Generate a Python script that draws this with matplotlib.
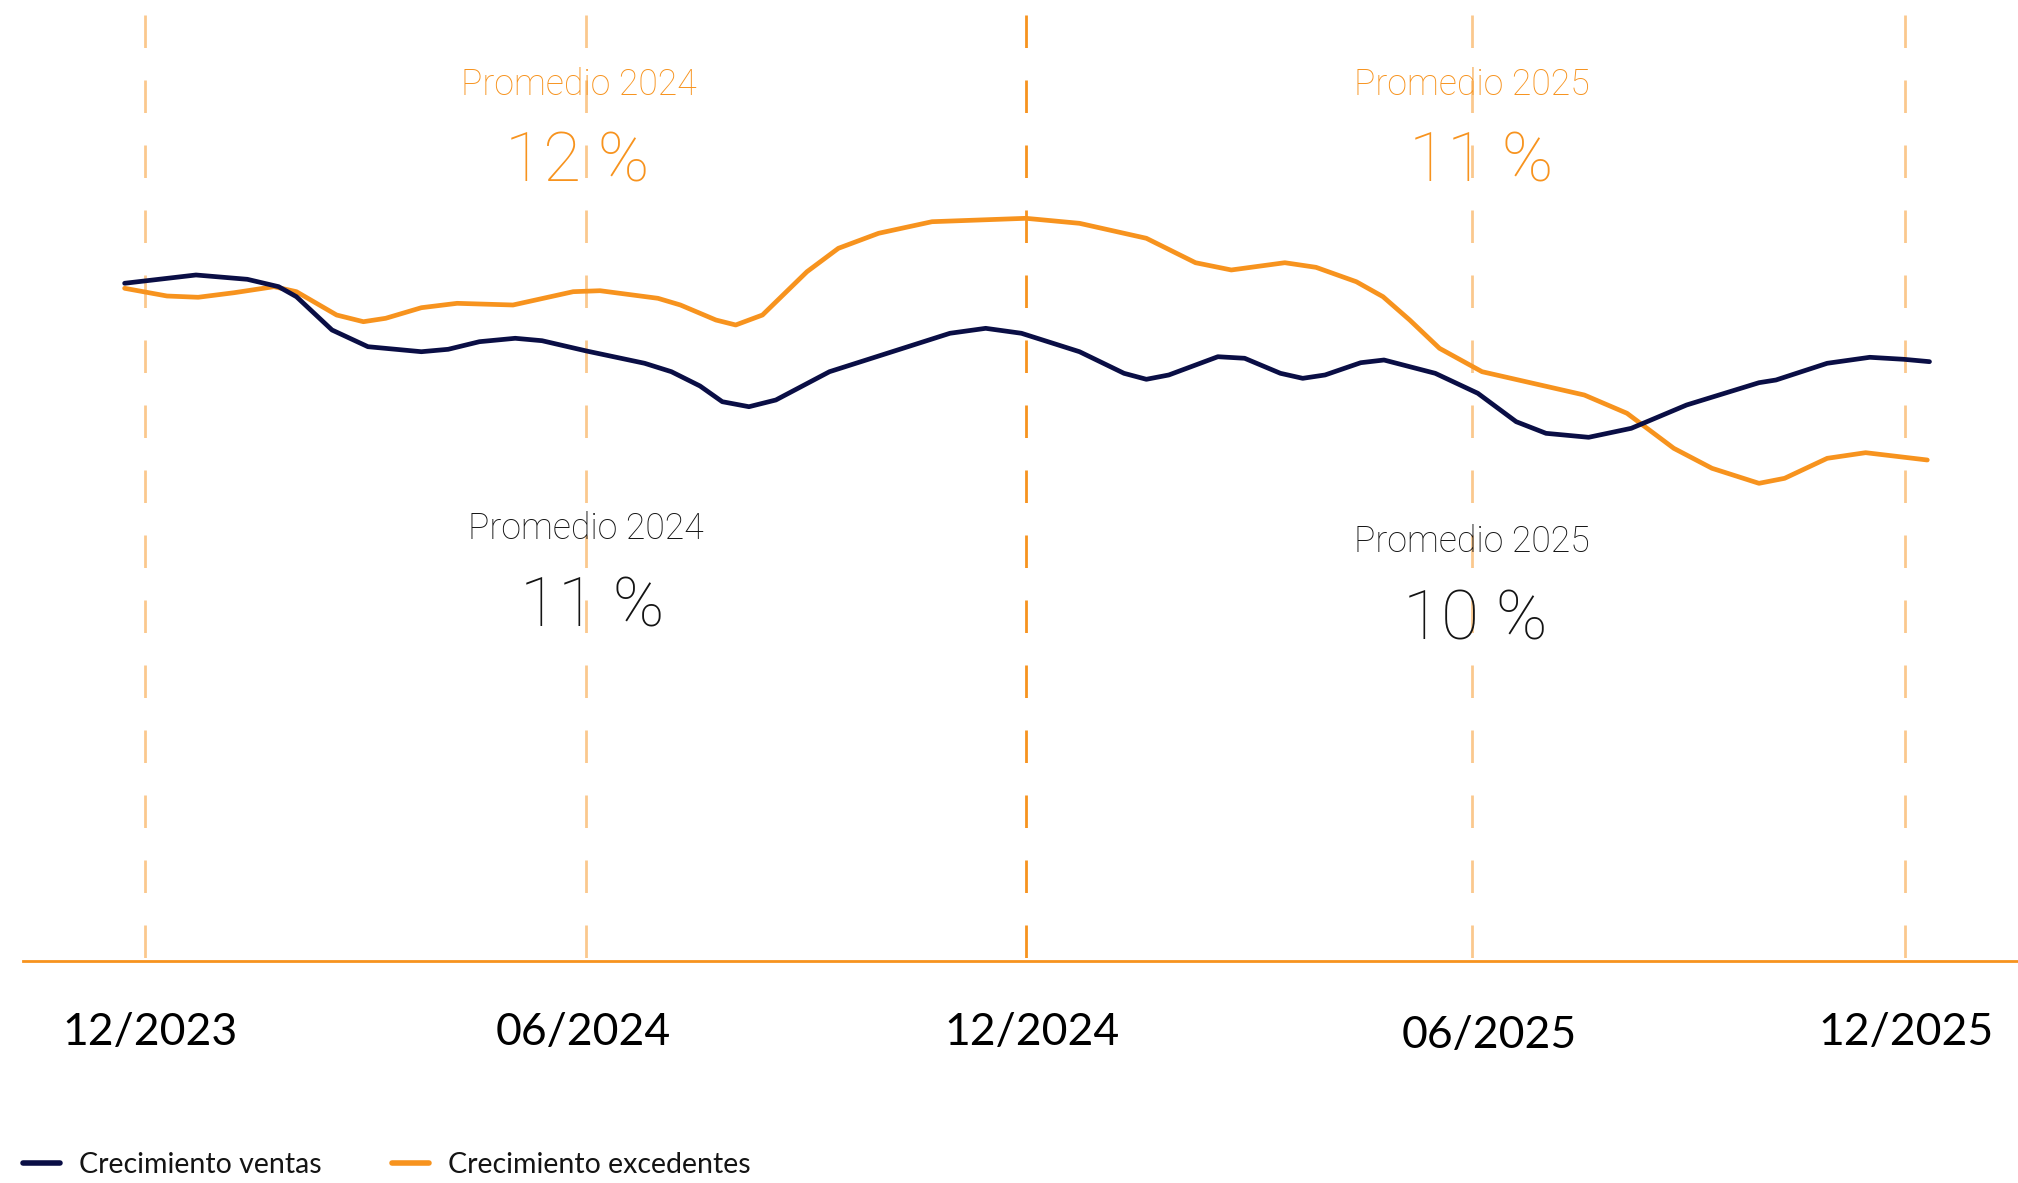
import matplotlib
matplotlib.use("Agg")
import matplotlib.pyplot as plt
from matplotlib.lines import Line2D

# ---------------- data ----------------
guide_months = [0.0, 6.01, 12.01, 18.10, 24.0]          # dashed guide lines
label_months = [0.067, 5.982, 12.09, 18.33, 24.01]      # tick label centres
tick_labels = ["12/2023", "06/2024", "12/2024", "06/2025", "12/2025"]

ventas_x = [-0.278, 0.695, 1.395, 1.822, 2.065, 2.550, 3.040, 3.769, 4.135, 4.561,
            5.048, 5.414, 6.022, 6.813, 7.178, 7.568, 7.872, 8.236, 8.603, 9.334,
            10.977, 11.464, 11.951, 12.743, 13.350, 13.655, 13.961, 14.630, 14.995,
            15.483, 15.787, 16.091, 16.578, 16.895, 17.594, 18.175, 18.698, 19.105,
            19.686, 20.267, 21.022, 22.009, 22.241, 22.939, 23.520, 23.985, 24.334]
ventas_y = [11.766, 11.910, 11.835, 11.707, 11.533, 10.955, 10.665, 10.578, 10.620, 10.752,
            10.811, 10.769, 10.590, 10.377, 10.231, 9.983, 9.710, 9.623, 9.740, 10.231,
            10.898, 10.984, 10.898, 10.578, 10.203, 10.099, 10.174, 10.491, 10.464,
            10.203, 10.116, 10.174, 10.387, 10.434, 10.203, 9.856, 9.363, 9.161,
            9.092, 9.248, 9.653, 10.040, 10.087, 10.377, 10.481, 10.446, 10.405]

excedentes_x = [-0.278, 0.300, 0.725, 1.214, 1.759, 2.065, 2.613, 2.978, 3.282, 3.769,
                4.256, 5.018, 5.839, 6.205, 6.995, 7.301, 7.786, 8.055, 8.420, 9.027,
                9.455, 10.004, 10.732, 12.012, 12.743, 13.655, 14.325, 14.813, 15.543,
                15.968, 16.518, 16.882, 17.246, 17.652, 18.232, 19.627, 20.209, 20.847,
                21.368, 22.009, 22.358, 22.939, 23.463, 24.304]
excedentes_y = [11.679, 11.545, 11.523, 11.602, 11.707, 11.620, 11.215, 11.099, 11.158, 11.342,
                11.418, 11.389, 11.620, 11.637, 11.505, 11.389, 11.128, 11.042, 11.215, 11.967,
                12.373, 12.634, 12.835, 12.894, 12.807, 12.547, 12.123, 11.997, 12.123,
                12.043, 11.793, 11.533, 11.128, 10.637, 10.231, 9.826, 9.509, 8.901,
                8.554, 8.293, 8.380, 8.727, 8.825, 8.698]

series_labels = ["Crecimiento ventas", "Crecimiento excedentes"]

avg_years = ["Promedio 2024", "Promedio 2025"]
avg_excedentes = ["12 %", "11 %"]
avg_ventas = ["11 %", "10 %"]

# ---------------- style ----------------
NAVY = "#0A0E45"
ORANGE = "#F7931E"
TEXT = "#141414"
FONT = ["Lato", "DejaVu Sans"]
AFONT = ["Roboto", "DejaVu Sans"]

W, H = 2018, 1183
fig = plt.figure(figsize=(W / 100, H / 100), dpi=100)
base_px = 961       # baseline from top (pixels)
left_px = 23
ax = fig.add_axes([left_px / W, (H - base_px) / H, (W - left_px) / W, base_px / H])

PPM = 73.333        # pixels per month
x0_px = 145
ax.set_xlim(-(x0_px - left_px) / PPM, 24 + (W - 1905) / PPM)
K = 57.6
ax.set_ylim(0, base_px / K)

# dashed vertical reference lines (drawn top -> bottom)
top_val = (base_px - 15) / K
for i, m in enumerate(guide_months):
    strong = (i == 2)
    ax.plot([m, m], [top_val, 0], color=ORANGE, lw=2.0,
            alpha=1.0 if strong else 0.5,
            linestyle=(0, (11.7, 11.7)), dash_capstyle="butt", zorder=1)

ax.plot(ventas_x, ventas_y, color=NAVY, lw=3.4, solid_capstyle="round",
        solid_joinstyle="round", zorder=3)
ax.plot(excedentes_x, excedentes_y, color=ORANGE, lw=3.4, solid_capstyle="round",
        solid_joinstyle="round", zorder=2)

# spines / ticks
for s in ["left", "right", "top"]:
    ax.spines[s].set_visible(False)
ax.spines["bottom"].set_color(ORANGE)
ax.spines["bottom"].set_linewidth(2.0)
ax.set_yticks([])
ax.set_xticks(label_months)
ax.set_xticklabels(tick_labels, fontsize=32, family=FONT, color="black")
ax.tick_params(axis="x", length=0, pad=37)
ax.get_xticklabels()[3].set_y(-0.003)

# annotations
def yv(px):
    return (base_px - px) / K

def xm(m, dpx):
    return m + dpx / PPM

g24, g25 = guide_months[1], guide_months[3]
ax.text(xm(g24, -7), yv(85), avg_years[0], ha="center", va="center", fontsize=25.7,
        family=AFONT, fontweight="light", color=ORANGE)
ax.text(xm(g24, -8), yv(163), avg_excedentes[0], ha="center", va="center", fontsize=50,
        family=AFONT, fontweight="light", color=ORANGE)
ax.text(xm(g25, 0), yv(85), avg_years[1], ha="center", va="center", fontsize=25.7,
        family=AFONT, fontweight="light", color=ORANGE)
ax.text(xm(g25, 9), yv(163), avg_excedentes[1], ha="center", va="center", fontsize=50,
        family=AFONT, fontweight="light", color=ORANGE)

ax.text(xm(g24, 0), yv(529), avg_years[0], ha="center", va="center", fontsize=25.7,
        family=AFONT, fontweight="light", color=TEXT)
ax.text(xm(g24, 7), yv(608), avg_ventas[0], ha="center", va="center", fontsize=50,
        family=AFONT, fontweight="light", color=TEXT)
ax.text(xm(g25, 0), yv(542), avg_years[1], ha="center", va="center", fontsize=25.7,
        family=AFONT, fontweight="light", color=TEXT)
ax.text(xm(g25, 3), yv(621), avg_ventas[1], ha="center", va="center", fontsize=50,
        family=AFONT, fontweight="light", color=TEXT)

# legend
handles = [Line2D([0], [0], color=NAVY, lw=4, solid_capstyle="round"),
           Line2D([0], [0], color=ORANGE, lw=4, solid_capstyle="round")]
fig.legend(handles, series_labels, loc="center left",
           bbox_to_anchor=(left_px / W, 18 / H), ncol=2, frameon=False,
           prop={"family": FONT, "size": 20.5}, handlelength=1.3,
           handletextpad=0.65, columnspacing=2.5, borderaxespad=0, borderpad=0,
           labelcolor=TEXT)

fig.savefig("out.png", dpi=100)
